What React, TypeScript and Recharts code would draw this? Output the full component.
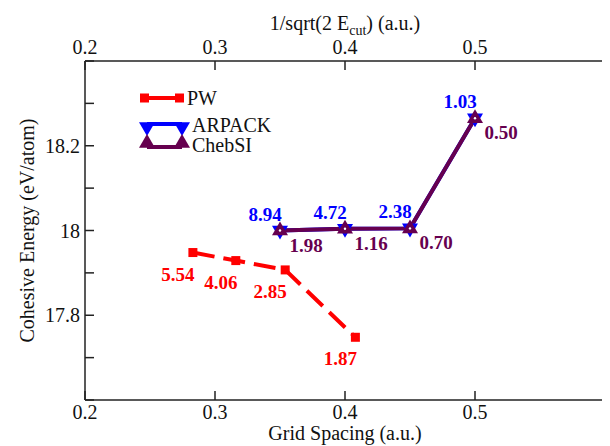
import { LineChart, Line, XAxis, YAxis, Legend, Label } from "recharts";

const FONT = "'Liberation Serif', 'Times New Roman', serif";
const AXIS = "#222";
const RED = "#ff0000";
const BLUE = "#0000ff";
const PURPLE = "#66004f";

// PW: grid spacing = 1/sqrt(2 Ecut)
const pwSpacing = [0.283, 0.316, 0.354, 0.408];
const pwEnergy = [17.948, 17.929, 17.907, 17.748];
const pwLabels = ["5.54", "4.06", "2.85", "1.87"];

// real-space runs
const fdSpacing = [0.35, 0.4, 0.45, 0.5];
const arpackEnergy = [18.0, 18.004, 18.005, 18.265];
const chebsiEnergy = [18.0, 18.004, 18.005, 18.265];
const arpackLabels = ["8.94", "4.72", "2.38", "1.03"];
const chebsiLabels = ["1.98", "1.16", "0.70", "0.50"];

const xMajorTicks = [0.2, 0.3, 0.4, 0.5, 0.6];
const xMinorTicks = [0.25, 0.35, 0.45, 0.55];
const yMajorTicks = [17.6, 17.7, 17.8, 17.9, 18.0, 18.1, 18.2, 18.3, 18.4];
const yMinorTicks = [17.65, 17.75, 17.85, 17.95, 18.05, 18.15, 18.25, 18.35];
const yLabelled = ["17.8", "18", "18.2"];

const pwData = pwSpacing.map((x, i) => ({ x, e: pwEnergy[i] }));
const arpackData = fdSpacing.map((x, i) => ({ x, e: arpackEnergy[i] }));
const chebsiData = fdSpacing.map((x, i) => ({ x, e: chebsiEnergy[i] }));

const tickFont = { fill: "#111", fontSize: 20, fontFamily: FONT };
const tickLine = { stroke: AXIS, strokeWidth: 1.5 };
const axisLine = { stroke: AXIS, strokeWidth: 1.5 };

const xFmt = (v: number) => (v > 0.55 ? "" : v.toFixed(1));
const yFmt = (v: number) => {
  const s = String(Number(v.toFixed(2)));
  return yLabelled.includes(s) ? s : "";
};

const upTri = (cx: number, cy: number, s = 8) =>
  `${cx},${cy - s - 1} ${cx - s},${cy + s * 0.6} ${cx + s},${cy + s * 0.6}`;
const downTri = (cx: number, cy: number, s = 8) =>
  `${cx},${cy + s + 1} ${cx - s},${cy - s * 0.6} ${cx + s},${cy - s * 0.6}`;

const dataLabel = (x: number, y: number, text: string, color: string) => (
  <text
    x={x}
    y={y}
    textAnchor="middle"
    fill={color}
    fontSize={19}
    fontWeight="bold"
    fontFamily={FONT}
  >
    {text}
  </text>
);

const pwDot = (p: any) => (
  <g key={`pw-${p.index}`}>
    <rect x={p.cx - 4.5} y={p.cy - 4.5} width={9} height={9} fill={RED} />
    {dataLabel(p.cx - 15, p.cy + 28, pwLabels[p.index], RED)}
  </g>
);

const arpackDot = (p: any) => (
  <g key={`ar-${p.index}`}>
    <polygon points={downTri(p.cx, p.cy)} fill={BLUE} />
    {dataLabel(p.cx - 15, p.cy - 10, arpackLabels[p.index], BLUE)}
  </g>
);

const chebsiDot = (p: any) => (
  <g key={`ch-${p.index}`}>
    <polygon points={upTri(p.cx, p.cy)} fill={PURPLE} />
    <circle cx={p.cx} cy={p.cy} r={1.2} fill="#fff" />
    {dataLabel(p.cx + 26, p.cy + 21, chebsiLabels[p.index], PURPLE)}
  </g>
);

function LegendBox() {
  const txt = { fontSize: 20, fontFamily: FONT, fill: "#111" };
  return (
    <svg width={170} height={80}>
      <line x1={9} y1={13} x2={44} y2={13} stroke={RED} strokeWidth={4} />
      <rect x={5} y={8.5} width={9} height={9} fill={RED} />
      <rect x={40} y={8.5} width={9} height={9} fill={RED} />
      <text x={52} y={20} {...txt}>PW</text>

      <line x1={12} y1={39} x2={47} y2={39} stroke={BLUE} strokeWidth={4} />
      <polygon points={downTri(12, 42)} fill={BLUE} />
      <polygon points={downTri(47, 42)} fill={BLUE} />
      <line x1={12} y1={62} x2={47} y2={62} stroke={PURPLE} strokeWidth={4} />
      <polygon points={upTri(12, 58)} fill={PURPLE} />
      <polygon points={upTri(47, 58)} fill={PURPLE} />
      <text x={57} y={47} {...txt}>ARPACK</text>
      <text x={57} y={67} {...txt}>ChebSI</text>
    </svg>
  );
}

export default function App() {
  return (
    <div>
      <LineChart
        width={602}
        height={438}
        margin={{ top: 51, right: 3, bottom: 44, left: 75 }}
      >
        <XAxis
          xAxisId="bottom"
          type="number"
          dataKey="x"
          domain={[0.2, 0.6]}
          ticks={xMajorTicks}
          tickFormatter={xFmt}
          height={1}
          tickSize={-9}
          tickMargin={14}
          tick={tickFont}
          tickLine={tickLine}
          axisLine={axisLine}
          allowDataOverflow
        >
          <Label
            content={({ viewBox }: any) => (
              <text
                x={viewBox.x + viewBox.width / 2}
                y={viewBox.y + 40}
                textAnchor="middle"
                fontSize={20}
                fontFamily={FONT}
                fill="#111"
              >
                Grid Spacing (a.u.)
              </text>
            )}
          />
        </XAxis>
        <XAxis
          xAxisId="bottomMinor"
          type="number"
          dataKey="x"
          domain={[0.2, 0.6]}
          ticks={xMinorTicks}
          height={1}
          tickSize={-5}
          tick={false}
          tickLine={tickLine}
          axisLine={false}
          allowDataOverflow
        />
        <XAxis
          xAxisId="top"
          orientation="top"
          type="number"
          dataKey="x"
          domain={[0.2, 0.6]}
          ticks={xMajorTicks}
          tickFormatter={xFmt}
          height={1}
          tickSize={-9}
          tickMargin={16}
          tick={tickFont}
          tickLine={tickLine}
          axisLine={axisLine}
          allowDataOverflow
        >
          <Label
            content={({ viewBox }: any) => (
              <text
                x={viewBox.x + viewBox.width / 2}
                y={viewBox.y - 30}
                textAnchor="middle"
                fontSize={20}
                fontFamily={FONT}
                fill="#111"
              >
                1/sqrt(2 E
                <tspan dy={5} fontSize={14}>
                  cut
                </tspan>
                <tspan dy={-5}>) (a.u.)</tspan>
              </text>
            )}
          />
        </XAxis>
        <XAxis
          xAxisId="topMinor"
          orientation="top"
          type="number"
          dataKey="x"
          domain={[0.2, 0.6]}
          ticks={xMinorTicks}
          height={1}
          tickSize={-5}
          tick={false}
          tickLine={tickLine}
          axisLine={false}
          allowDataOverflow
        />

        <YAxis
          yAxisId="left"
          type="number"
          domain={[17.6, 18.4]}
          ticks={yMajorTicks}
          tickFormatter={yFmt}
          width={1}
          tickSize={-9}
          tickMargin={14}
          tick={tickFont}
          tickLine={tickLine}
          axisLine={axisLine}
          allowDataOverflow
        >
          <Label
            content={({ viewBox }: any) => {
              const cx = viewBox.x - 57;
              const cy = viewBox.y + viewBox.height / 2;
              return (
                <text
                  x={cx}
                  y={cy}
                  textAnchor="middle"
                  dominantBaseline="central"
                  transform={`rotate(-90, ${cx}, ${cy})`}
                  fontSize={20}
                  fontFamily={FONT}
                  fill="#111"
                >
                  Cohesive Energy (eV/atom)
                </text>
              );
            }}
          />
        </YAxis>
        <YAxis
          yAxisId="leftMinor"
          type="number"
          domain={[17.6, 18.4]}
          ticks={yMinorTicks}
          width={1}
          tickSize={-5}
          tick={false}
          tickLine={tickLine}
          axisLine={false}
          allowDataOverflow
        />
        <YAxis
          yAxisId="right"
          orientation="right"
          type="number"
          domain={[17.6, 18.4]}
          ticks={yMajorTicks}
          width={1}
          tickSize={-9}
          tick={false}
          tickLine={tickLine}
          axisLine={axisLine}
          allowDataOverflow
        />
        <YAxis
          yAxisId="rightMinor"
          orientation="right"
          type="number"
          domain={[17.6, 18.4]}
          ticks={yMinorTicks}
          width={1}
          tickSize={-5}
          tick={false}
          tickLine={tickLine}
          axisLine={false}
          allowDataOverflow
        />

        <Legend
          layout="vertical"
          align="center"
          verticalAlign="middle"
          wrapperStyle={{ left: 127, top: 77, width: 170 }}
          content={() => <LegendBox />}
        />

        <Line
          xAxisId="bottom"
          yAxisId="left"
          data={pwData}
          dataKey="e"
          type="linear"
          stroke={RED}
          strokeWidth={4}
          strokeDasharray="22 9"
          dot={pwDot}
          activeDot={false}
          isAnimationActive={false}
        />
        <Line
          xAxisId="bottom"
          yAxisId="left"
          data={arpackData}
          dataKey="e"
          type="linear"
          stroke={BLUE}
          strokeWidth={4}
          dot={arpackDot}
          activeDot={false}
          isAnimationActive={false}
        />
        <Line
          xAxisId="bottom"
          yAxisId="left"
          data={chebsiData}
          dataKey="e"
          type="linear"
          stroke={PURPLE}
          strokeWidth={4}
          dot={chebsiDot}
          activeDot={false}
          isAnimationActive={false}
        />
      </LineChart>
    </div>
  );
}
